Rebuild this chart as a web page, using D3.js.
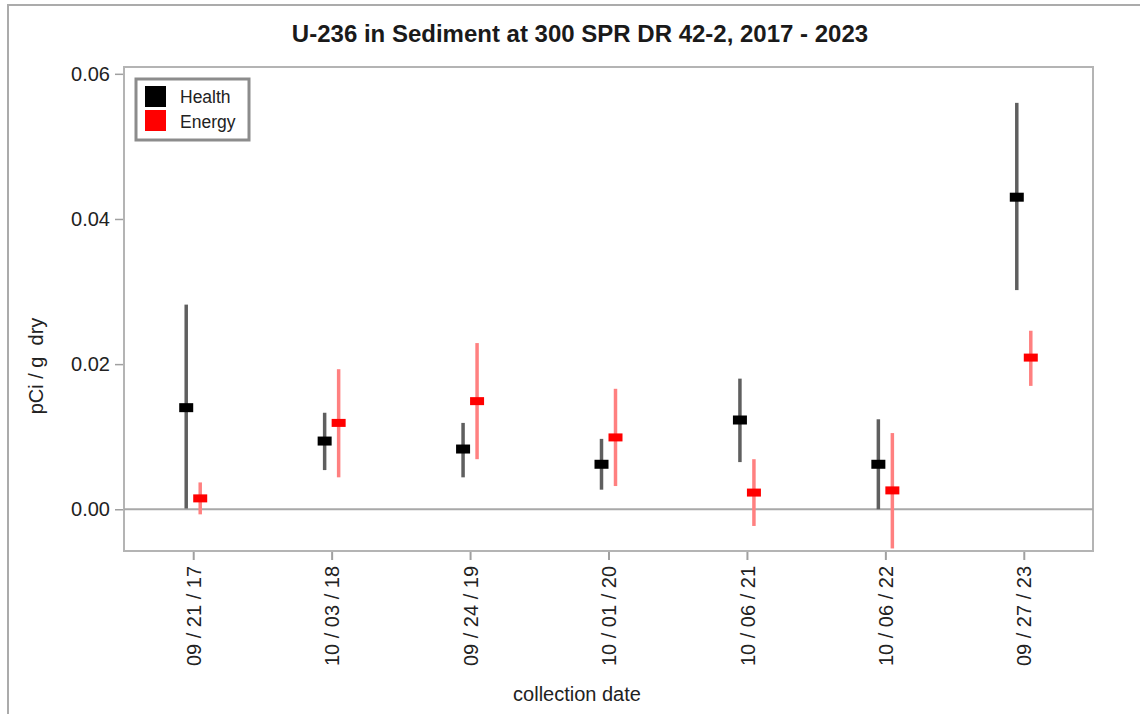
<!DOCTYPE html>
<html>
<head>
<meta charset="utf-8">
<script src="https://cdn.jsdelivr.net/npm/d3@7"></script>
<style>
  html, body { margin: 0; padding: 0; background: #fff; }
  svg { display: block; font-family: "Liberation Sans", Arial, sans-serif; }
</style>
</head>
<body>
<svg id="chart" width="1140" height="714"></svg>
<script>
const dates = ["09 / 21 / 17", "10 / 03 / 18", "09 / 24 / 19", "10 / 01 / 20", "10 / 06 / 21", "10 / 06 / 22", "09 / 27 / 23"];
const healthValue = [0.0140, 0.0094, 0.0083, 0.0062, 0.0123, 0.0062, 0.0430];
const healthLow   = [0.0001, 0.0054, 0.0044, 0.0027, 0.0065, 0.0000, 0.0302];
const healthHigh  = [0.0282, 0.0133, 0.0119, 0.0097, 0.0180, 0.0124, 0.0560];
const energyValue = [0.0015, 0.0119, 0.0149, 0.0099, 0.0023, 0.0026, 0.0209];
const energyLow   = [-0.0007, 0.0044, 0.0069, 0.0032, -0.0023, -0.0054, 0.0170];
const energyHigh  = [0.0037, 0.0193, 0.0229, 0.0166, 0.0069, 0.0105, 0.0246];
const yTicks = [0.00, 0.02, 0.04, 0.06];
const seriesNames = ["Health", "Energy"];

const svg = d3.select("#chart");
const W = 1140, H = 714;
const plot = {left: 124, top: 67, right: 1093, bottom: 551};

svg.append("rect").attr("width", W).attr("height", H).attr("fill", "#fff");
// outer frame
svg.append("path").attr("d", `M8,${H + 10} V5 H${W + 10}`)
  .attr("fill", "none").attr("stroke", "#ababab").attr("stroke-width", 2);

const x = d3.scalePoint().domain(dates).range([plot.left, plot.right]).padding(0.5);
const y = d3.scaleLinear().domain([-0.00575, 0.06094]).range([plot.bottom, plot.top]);

// plot frame
svg.append("rect").attr("x", plot.left).attr("y", plot.top)
  .attr("width", plot.right - plot.left).attr("height", plot.bottom - plot.top)
  .attr("fill", "none").attr("stroke", "#b4b4b4").attr("stroke-width", 2);

// zero line
svg.append("line").attr("x1", plot.left).attr("x2", plot.right)
  .attr("y1", y(0)).attr("y2", y(0)).attr("stroke", "#a8a8a8").attr("stroke-width", 2);

// y axis
const yAxis = svg.append("g").attr("transform", `translate(${plot.left - 1},0)`)
  .call(d3.axisLeft(y).tickValues(yTicks).tickFormat(d3.format(".2f")).tickSize(8).tickPadding(5));
yAxis.select(".domain").remove();
yAxis.selectAll(".tick line").attr("stroke", "#a0a0a0").attr("stroke-width", 1.5);
yAxis.selectAll(".tick text").attr("font-size", 20).attr("fill", "#222")
  .attr("font-family", "Liberation Sans, Arial, sans-serif");

// x axis
const xAxis = svg.append("g").attr("transform", `translate(0,${plot.bottom + 1})`)
  .call(d3.axisBottom(x).tickSize(8));
xAxis.select(".domain").remove();
xAxis.selectAll(".tick line").attr("stroke", "#a0a0a0").attr("stroke-width", 2);
xAxis.selectAll(".tick text")
  .attr("font-size", 20).attr("fill", "#222")
  .attr("font-family", "Liberation Sans, Arial, sans-serif")
  .attr("text-anchor", "end")
  .attr("transform", "rotate(-90)")
  .attr("x", -14).attr("y", 0).attr("dy", "0.36em");

// series data
const series = [
  {name: "Health", color: "#000", bar: "#5f5f5f", offset: -7, v: healthValue, lo: healthLow, hi: healthHigh, h: 9},
  {name: "Energy", color: "#ff0000", bar: "#ff8080", offset: 7, v: energyValue, lo: energyLow, hi: energyHigh, h: 8}
];

series.forEach(s => {
  const g = svg.append("g");
  const data = dates.map((d, i) => ({d, v: s.v[i], lo: s.lo[i], hi: s.hi[i]}));
  g.selectAll("line.err").data(data).join("line")
    .attr("x1", d => x(d.d) + s.offset).attr("x2", d => x(d.d) + s.offset)
    .attr("y1", d => y(d.hi)).attr("y2", d => y(d.lo))
    .attr("stroke", s.bar).attr("stroke-width", 3.5);
  g.selectAll("rect.mk").data(data).join("rect")
    .attr("x", d => x(d.d) + s.offset - 7).attr("y", d => y(d.v) - s.h / 2)
    .attr("width", 14).attr("height", s.h).attr("fill", s.color);
});

// title
svg.append("text").attr("x", 580).attr("y", 42).attr("text-anchor", "middle")
  .attr("font-size", 24).attr("font-weight", "bold").attr("fill", "#1a1a1a")
  .text("U-236 in Sediment at 300 SPR DR 42-2, 2017 - 2023");

// y label
svg.append("text").attr("transform", "translate(43,366) rotate(-90)")
  .attr("text-anchor", "middle").attr("font-size", 20).attr("fill", "#222")
  .attr("xml:space", "preserve").style("white-space", "pre")
  .text("pCi / g  dry");

// x label
svg.append("text").attr("x", 577).attr("y", 701).attr("text-anchor", "middle")
  .attr("font-size", 20).attr("fill", "#222").text("collection date");

// legend
const lg = svg.append("g");
lg.append("rect").attr("x", 136).attr("y", 79).attr("width", 113).attr("height", 61)
  .attr("fill", "#fff").attr("stroke", "#8c8c8c").attr("stroke-width", 3);
series.forEach((s, i) => {
  lg.append("rect").attr("x", 145).attr("y", 86 + i * 24).attr("width", 21).attr("height", 21)
    .attr("fill", s.color);
  lg.append("text").attr("x", 180).attr("y", 103 + i * 25).attr("font-size", 17.5)
    .attr("fill", "#222").text(seriesNames[i]);
});
</script>
</body>
</html>
